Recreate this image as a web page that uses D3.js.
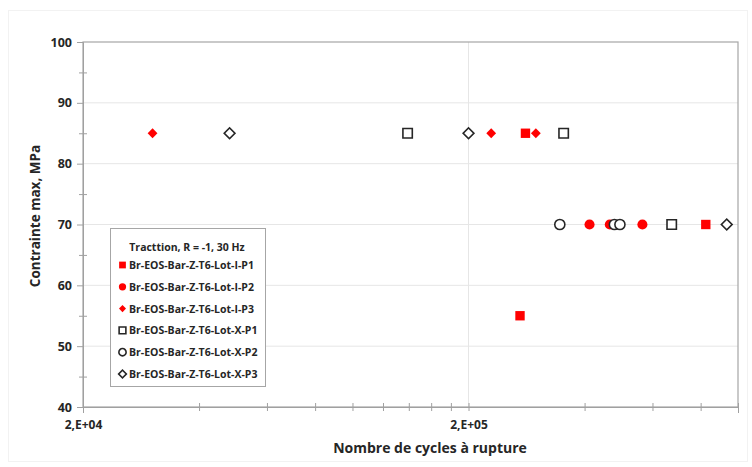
<!DOCTYPE html>
<html><head><meta charset="utf-8">
<script src="https://cdn.jsdelivr.net/npm/d3@7"></script>
<style>body{margin:0;background:#fff}svg{display:block}text{font-family:"Open Sans",sans-serif;font-weight:700;fill:#262626}</style>
</head><body><svg id="c" width="752" height="467"></svg>
<script>
// Data (cycles to failure, max stress MPa)
const seriesNames = ["Br-EOS-Bar-Z-T6-Lot-I-P1","Br-EOS-Bar-Z-T6-Lot-I-P2","Br-EOS-Bar-Z-T6-Lot-I-P3","Br-EOS-Bar-Z-T6-Lot-X-P1","Br-EOS-Bar-Z-T6-Lot-X-P2","Br-EOS-Bar-Z-T6-Lot-X-P3"];
const lotI_P1_cycles = [281000, 825000, 272000];
const lotI_P1_stress = [85, 70, 55];
const lotI_P2_cycles = [412000, 465000, 565000];
const lotI_P2_stress = [70, 70, 70];
const lotI_P3_cycles = [30300, 229000, 299000];
const lotI_P3_stress = [85, 85, 85];
const lotX_P1_cycles = [139000, 353000, 673000];
const lotX_P1_stress = [85, 85, 70];
const lotX_P2_cycles = [345000, 478000, 494000];
const lotX_P2_stress = [70, 70, 70];
const lotX_P3_cycles = [48000, 200000, 935000];
const lotX_P3_stress = [85, 85, 70];
const yTicks = [40, 50, 60, 70, 80, 90, 100];
const xMajorTicks = [2e4, 2e5];
const xTickLabels = ["2,E+04", "2,E+05"];
const xMinorTicks = [4e4,6e4,8e4,1e5,1.2e5,1.4e5,1.6e5,1.8e5,4e5,6e5,8e5,1e6];
const legendTitle = "Tracttion, R = -1, 30 Hz";

const styles = [
  {shape:"square", fill:"#ff0000", stroke:"none"},
  {shape:"circle", fill:"#ff0000", stroke:"none"},
  {shape:"diamond", fill:"#ff0000", stroke:"none"},
  {shape:"square", fill:"#fff", stroke:"#262626"},
  {shape:"circle", fill:"#fff", stroke:"#262626"},
  {shape:"diamond", fill:"#fff", stroke:"#262626"}
];
const series = [
  [lotI_P1_cycles, lotI_P1_stress],[lotI_P2_cycles, lotI_P2_stress],[lotI_P3_cycles, lotI_P3_stress],
  [lotX_P1_cycles, lotX_P1_stress],[lotX_P2_cycles, lotX_P2_stress],[lotX_P3_cycles, lotX_P3_stress]
].map((s,i)=>({name:seriesNames[i], style:styles[i], pts:s[0].map((c,j)=>({x:c,y:s[1][j]}))}));

const svg = d3.select("#c");
const L=83, R=738, T=42, B=407;
const x = d3.scaleLog().domain([2e4, 1e6]).range([L, R]);
const y = d3.scaleLinear().domain([40, 100]).range([B, T]);

// outer faint frame
svg.append("rect").attr("x",8.5).attr("y",10.5).attr("width",739).attr("height",451).attr("fill","none").attr("stroke","#f2f2f2");

// gridlines
svg.append("g").selectAll("line").data(yTicks.filter(v=>v>40&&v<100)).join("line")
  .attr("x1",L).attr("x2",R).attr("y1",d=>y(d)).attr("y2",d=>y(d)).attr("stroke","#e6e6e6").attr("stroke-width",1);
svg.append("g").selectAll("line").data(xMajorTicks.filter(v=>v>2e4)).join("line")
  .attr("x1",d=>x(d)).attr("x2",d=>x(d)).attr("y1",T).attr("y2",B).attr("stroke","#e6e6e6").attr("stroke-width",1);

// plot border
svg.append("rect").attr("x",L).attr("y",T).attr("width",R-L).attr("height",B-T).attr("fill","none").attr("stroke","#a6a6a6").attr("stroke-width",1.2);

// y axis
const yAxis = d3.axisLeft(y).tickValues(yTicks).tickSize(6).tickFormat(d3.format("d"));
const gy = svg.append("g").attr("transform",`translate(${L},0)`).call(yAxis);
gy.select(".domain").attr("stroke","#a0a0a0");
gy.selectAll(".tick line").attr("stroke","#a0a0a0").attr("x2",-6);
gy.selectAll(".tick text").attr("x",-11).style("font-size","12.5px").style("font-family","'Open Sans',sans-serif").attr("fill","#262626");
const yMinor = d3.axisLeft(y).tickValues([45,55,65,75,85,95]).tickSize(4).tickFormat("");
const gym = svg.append("g").attr("transform",`translate(${L},0)`).call(yMinor);
gym.select(".domain").remove();
gym.selectAll(".tick line").attr("stroke","#a0a0a0").attr("x2",4).attr("x1",-4);

// x axis
const xAxis = d3.axisBottom(x).tickValues(xMajorTicks).tickSize(6).tickFormat((d,i)=>xTickLabels[i]);
const gx = svg.append("g").attr("transform",`translate(0,${B})`).call(xAxis);
gx.select(".domain").attr("stroke","#a0a0a0");
gx.selectAll(".tick line").attr("stroke","#a0a0a0").attr("y1",-4).attr("y2",4);
gx.selectAll(".tick text").attr("y",13).style("font-size","12px").style("font-family","'Open Sans',sans-serif").attr("fill","#262626");
const xMinor = d3.axisBottom(x).tickValues(xMinorTicks).tickSize(4).tickFormat("");
const gxm = svg.append("g").attr("transform",`translate(0,${B})`).call(xMinor);
gxm.select(".domain").remove();
gxm.selectAll(".tick line").attr("stroke","#a0a0a0").attr("y1",-4).attr("y2",4);

// axis titles
svg.append("text").attr("x",430).attr("y",453).attr("text-anchor","middle").style("font-size","14px").text("Nombre de cycles à rupture");
svg.append("text").attr("transform","translate(40,216) rotate(-90)").attr("text-anchor","middle").style("font-size","13.5px").text("Contrainte max, MPa");

// symbols
function drawMark(g, st, cx, cy, scale){
  const isD = st.shape==="diamond";
  const t = st.shape==="circle"? d3.symbolCircle : d3.symbolSquare;
  const sz = st.shape==="square"? 88 : st.shape==="circle"? 80 : (st.stroke==="none"? 48 : 58);
  g.append("path").attr("d", d3.symbol().type(t).size(sz*scale*scale)())
    .attr("transform",`translate(${cx},${cy})` + (isD?" rotate(45)":""))
    .attr("fill",st.fill).attr("stroke",st.stroke).attr("stroke-width",st.stroke==="none"?0:1.6);
}
const gm = svg.append("g");
series.forEach(s=>{ s.pts.forEach(p=> drawMark(gm, s.style, x(p.x), y(p.y), 1)); });

// legend
const lg = svg.append("g");
lg.append("rect").attr("x",110.5).attr("y",228.5).attr("width",155).attr("height",158).attr("fill","#fff").attr("stroke","#a6a6a6");
lg.append("text").attr("x",187).attr("y",251).attr("text-anchor","middle").style("font-size","10.5px").text(legendTitle);
series.forEach((s,i)=>{
  const yy = 265 + i*21.8;
  drawMark(lg, s.style, 122.5, yy, 0.72);
  lg.append("text").attr("x",129).attr("y",yy+4).style("font-size","10.5px").text(s.name);
});
</script></body></html>
